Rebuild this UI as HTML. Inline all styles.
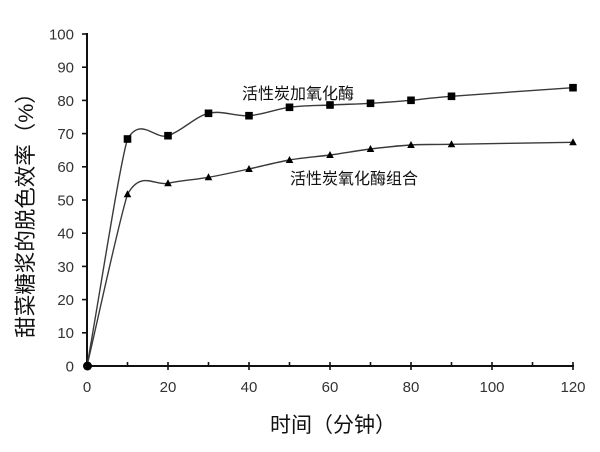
<!DOCTYPE html>
<html><head><meta charset="utf-8"><style>
html,body{margin:0;padding:0;background:#fff;}
svg{display:block;}
</style></head><body>
<svg width="600" height="452" viewBox="0 0 600 452" xmlns="http://www.w3.org/2000/svg">
<rect width="600" height="452" fill="#fff"/>
<g stroke="#111" stroke-width="2" fill="none">
<line x1="87" y1="33" x2="87" y2="367"/>
<line x1="86" y1="366" x2="574" y2="366"/>
</g>
<g stroke="#111" stroke-width="1.6">
<line x1="82" y1="34" x2="87" y2="34"/>
<line x1="82" y1="67.2" x2="87" y2="67.2"/>
<line x1="82" y1="100.4" x2="87" y2="100.4"/>
<line x1="82" y1="133.6" x2="87" y2="133.6"/>
<line x1="82" y1="166.8" x2="87" y2="166.8"/>
<line x1="82" y1="200" x2="87" y2="200"/>
<line x1="82" y1="233.2" x2="87" y2="233.2"/>
<line x1="82" y1="266.4" x2="87" y2="266.4"/>
<line x1="82" y1="299.6" x2="87" y2="299.6"/>
<line x1="82" y1="332.8" x2="87" y2="332.8"/>
<line x1="168" y1="362" x2="168" y2="370"/>
<line x1="249" y1="362" x2="249" y2="370"/>
<line x1="330" y1="362" x2="330" y2="370"/>
<line x1="411" y1="362" x2="411" y2="370"/>
<line x1="492" y1="362" x2="492" y2="370"/>
<line x1="573" y1="362" x2="573" y2="370"/>
<line x1="127.5" y1="362" x2="127.5" y2="366"/>
<line x1="208.5" y1="362" x2="208.5" y2="366"/>
<line x1="289.5" y1="362" x2="289.5" y2="366"/>
<line x1="370.5" y1="362" x2="370.5" y2="366"/>
<line x1="451.5" y1="362" x2="451.5" y2="366"/>
<line x1="532.5" y1="362" x2="532.5" y2="366"/>
</g>
<g font-family="Liberation Sans, Arial, sans-serif" font-size="15" fill="#333" text-anchor="end">
<text x="74" y="39.4">100</text>
<text x="74" y="72.6">90</text>
<text x="74" y="105.8">80</text>
<text x="74" y="139">70</text>
<text x="74" y="172.2">60</text>
<text x="74" y="205.4">50</text>
<text x="74" y="238.6">40</text>
<text x="74" y="271.8">30</text>
<text x="74" y="305">20</text>
<text x="74" y="338.2">10</text>
<text x="74" y="371.4">0</text>
</g>
<g font-family="Liberation Sans, Arial, sans-serif" font-size="15" fill="#333" text-anchor="middle">
<text x="87" y="392">0</text>
<text x="168" y="392">20</text>
<text x="249" y="392">40</text>
<text x="330" y="392">60</text>
<text x="411" y="392">80</text>
<text x="492" y="392">100</text>
<text x="573" y="392">120</text>
</g>
<g fill="none" stroke="#3a3a3a" stroke-width="1.4">
<path d="M87,366 C100.5,290 119,168 127.5,139 C141,116 154.5,140 168,135.7 C181.5,131.4 195,116.6 208.5,113.3 C222,110 235.5,116.7 249,115.7 C262.5,114.7 276,109.1 289.5,107.3 C303,105.5 316.5,105.7 330,105 C343.5,104.3 357,104.1 370.5,103.3 C384,102.5 397.5,101.5 411,100.3 C424.5,99.1 424.5,98.4 451.5,96.3 C478.5,94.2 552.75,89.1 573,87.7"/>
<path d="M87,366 C100.5,308 118,225 127.5,194.3 C141,169.9 154.5,186.1 168,183.3 C181.5,180.5 195,179.7 208.5,177.3 C222,174.9 235.5,171.9 249,169 C262.5,166.1 276,162.3 289.5,160 C303,157.7 316.5,156.8 330,155 C343.5,153.2 357,150.7 370.5,149 C384,147.3 397.5,145.8 411,145 C424.5,144.2 424.5,144.75 451.5,144.3 C478.5,143.85 552.75,142.6 573,142.3"/>
</g>
<g fill="#000">
<rect x="123.7" y="135.2" width="7.6" height="7.6"/>
<rect x="164.2" y="131.9" width="7.6" height="7.6"/>
<rect x="204.7" y="109.5" width="7.6" height="7.6"/>
<rect x="245.2" y="111.9" width="7.6" height="7.6"/>
<rect x="285.7" y="103.5" width="7.6" height="7.6"/>
<rect x="326.2" y="101.2" width="7.6" height="7.6"/>
<rect x="366.7" y="99.5" width="7.6" height="7.6"/>
<rect x="407.2" y="96.5" width="7.6" height="7.6"/>
<rect x="447.7" y="92.5" width="7.6" height="7.6"/>
<rect x="569.2" y="83.9" width="7.6" height="7.6"/>
<polygon points="127.5,190.3 131.3,197.3 123.7,197.3"/>
<polygon points="168,179.3 171.8,186.3 164.2,186.3"/>
<polygon points="208.5,173.3 212.3,180.3 204.7,180.3"/>
<polygon points="249,165 252.8,172 245.2,172"/>
<polygon points="289.5,156 293.3,163 285.7,163"/>
<polygon points="330,151 333.8,158 326.2,158"/>
<polygon points="370.5,145 374.3,152 366.7,152"/>
<polygon points="411,141 414.8,148 407.2,148"/>
<polygon points="451.5,140.3 455.3,147.3 447.7,147.3"/>
<polygon points="573,138.3 576.8,145.3 569.2,145.3"/>
<circle cx="87.5" cy="366" r="4.5"/>
</g>
<g font-family="Liberation Sans, 'Noto Sans CJK SC', sans-serif" font-size="16" fill="#111">
<text x="242" y="99">活性炭加氧化酶</text>
<text x="290" y="184">活性炭氧化酶组合</text>
</g>
<text x="333" y="432" font-family="Liberation Sans, 'Noto Sans CJK SC', sans-serif" font-size="21" fill="#111" text-anchor="middle">时间（分钟）</text>
<text transform="translate(33,210) rotate(-90)" x="0" y="0" font-family="Liberation Sans, 'Noto Sans CJK SC', sans-serif" font-size="21.5" fill="#111" text-anchor="middle">甜菜糖浆的脱色效率（%）</text>
</svg>
</body></html>
